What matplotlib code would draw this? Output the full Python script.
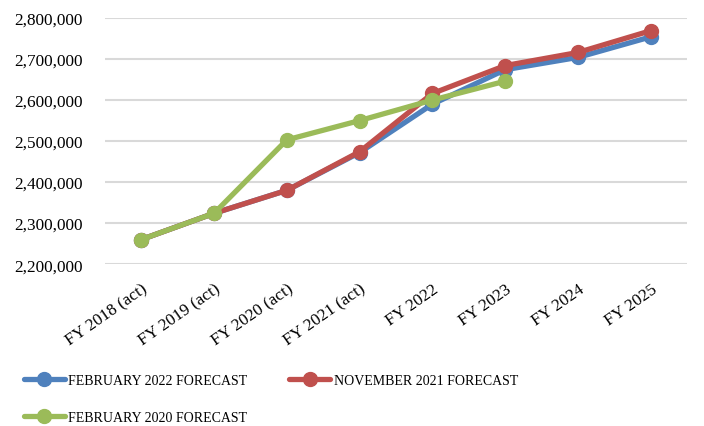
import matplotlib
matplotlib.use("Agg")
import matplotlib.pyplot as plt
from matplotlib.ticker import FuncFormatter, MultipleLocator

categories = ["FY 2018 (act)", "FY 2019 (act)", "FY 2020 (act)", "FY 2021 (act)",
              "FY 2022", "FY 2023", "FY 2024", "FY 2025"]
feb2022 = [2260000, 2324000, 2380000, 2472000, 2590000, 2674000, 2704000, 2754000]
nov2021 = [2260000, 2324000, 2380000, 2474000, 2616000, 2684000, 2716000, 2769000]
feb2020 = [2260000, 2324000, 2503000, 2550000, 2600000, 2646000]

plt.rcParams['font.family'] = ['Liberation Serif', 'DejaVu Serif']

fig = plt.figure(figsize=(7.04, 4.27), dpi=100)
ax = fig.add_axes([0.149, 0.379, 0.827, 0.5765])

x = list(range(len(categories)))
lw = 3.8
ms = 10
hb, = ax.plot(x, feb2022, color="#4F81BD", lw=lw, marker="o", ms=ms,
              solid_capstyle="round", label="FEBRUARY 2022 FORECAST", zorder=3)
hr, = ax.plot(x, nov2021, color="#C0504D", lw=lw, marker="o", ms=ms,
              solid_capstyle="round", label="NOVEMBER 2021 FORECAST", zorder=4)
hg, = ax.plot(x[:len(feb2020)], feb2020, color="#9BBB59", lw=lw, marker="o", ms=ms,
              solid_capstyle="round", label="FEBRUARY 2020 FORECAST", zorder=5)

ax.set_xlim(-0.5, 7.5)
ax.set_ylim(2200000, 2800000)
ax.yaxis.set_major_locator(MultipleLocator(100000))
ax.yaxis.set_major_formatter(FuncFormatter(lambda v, p: f"{int(v):,}"))
ax.grid(axis="y", color="#D9D9D9", lw=1.5)
ax.set_axisbelow(True)
for s in ax.spines.values():
    s.set_visible(False)
ax.tick_params(axis="both", length=0)
ax.tick_params(axis="y", pad=16, labelsize=12.4)
ax.tick_params(axis="x", pad=12, labelsize=12.3)
ax.set_xticks(x)
ax.set_xticklabels(categories, rotation=35, ha="right", rotation_mode="anchor")

fig.legend(handles=[hb, hg, hr], ncol=2, frameon=False, fontsize=10,
           loc="upper left", bbox_to_anchor=(0.034, 0.122), handlelength=2.95,
           handletextpad=0.25, columnspacing=3.0, labelspacing=1.7,
           borderaxespad=0, borderpad=0)

fig.savefig("out.png", dpi=100)
